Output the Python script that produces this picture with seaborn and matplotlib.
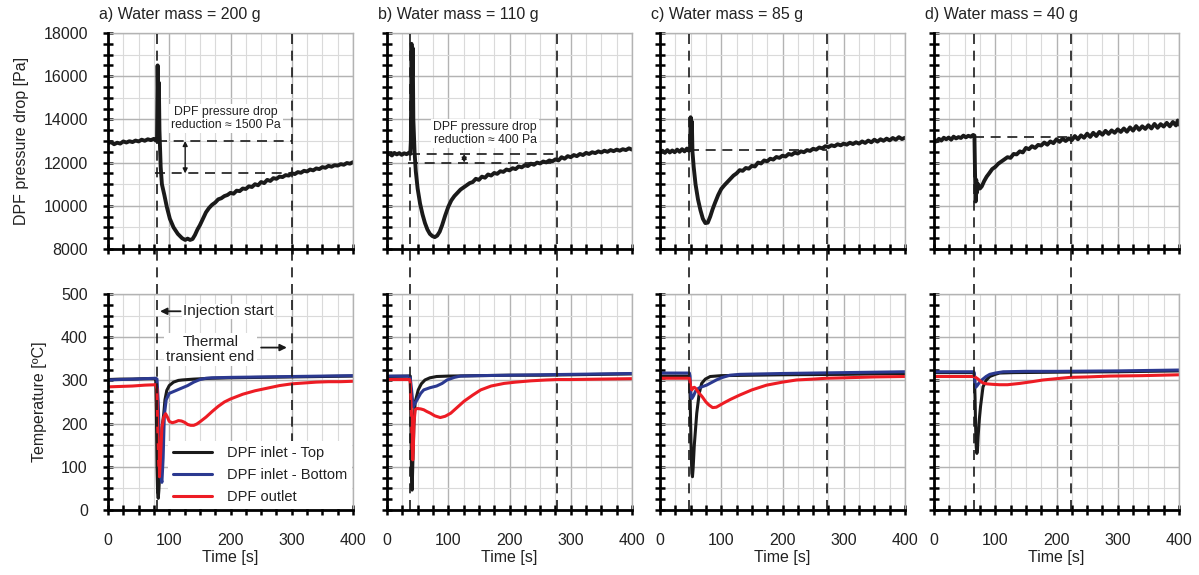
import matplotlib
matplotlib.use('Agg')
import matplotlib.pyplot as plt
import seaborn as sns
from matplotlib.ticker import MultipleLocator, FuncFormatter

sns.set_theme(style='white')
plt.rcParams['font.family'] = ['Liberation Sans', 'DejaVu Sans']

# ---------------- data ----------------
panel_titles = ['a) Water mass = 200 g', 'b) Water mass = 110 g',
                'c) Water mass = 85 g', 'd) Water mass = 40 g']
inj_start = [80, 38, 48, 66]
trans_end = [300, 278, 273, 224]
series_names = ['DPF inlet - Top', 'DPF inlet - Bottom', 'DPF outlet']
series_colors = ['#1a1a1a', '#2b3990', '#ed1c24']
p_labels = [8000, 10000, 12000, 14000, 16000, 18000]
t_labels = [0, 100, 200, 300, 400, 500]

# pressure drop [Pa]
pa_t = [0, 5, 10, 15, 20, 25, 30, 35, 40, 45, 50, 55, 60, 65, 70, 75, 78, 80, 81, 82, 83, 84, 86, 88,
        92, 96, 101, 107, 114, 121, 126, 130, 134, 138, 142, 146, 150, 155, 160, 165, 170, 175, 180,
        185, 190, 195, 200, 205, 210, 215, 220, 225, 230, 235, 240, 245, 250, 255, 260, 265, 270, 275,
        280, 285, 290, 295, 300, 305, 310, 315, 320, 325, 330, 335, 340, 345, 350, 355, 360, 365, 370,
        375, 380, 385, 390, 395, 400]
pa_p = [12900, 12950, 12850, 12920, 12880, 12980, 12930, 12990, 12950, 13020, 12980, 13060, 13010,
        13080, 13040, 13100, 13020, 13000, 16500, 14600, 15700, 13500, 11800, 11000, 10500, 9950, 9400,
        9000, 8700, 8500, 8420, 8480, 8420, 8460, 8650, 8900, 9100, 9400, 9700, 9900, 10050, 10150,
        10300, 10350, 10450, 10500, 10600, 10560, 10700, 10680, 10800, 10780, 10900, 10870, 11000, 10950,
        11100, 11050, 11200, 11150, 11280, 11250, 11350, 11330, 11420, 11400, 11500, 11470, 11560, 11530,
        11620, 11590, 11680, 11640, 11730, 11700, 11790, 11760, 11850, 11810, 11880, 11860, 11930, 11900,
        11980, 11950, 12020]

pb_t = [0, 4, 8, 12, 16, 20, 24, 28, 32, 36, 38, 39, 40, 41, 42, 43, 45, 47, 50, 54, 58, 62, 66, 70,
        74, 78, 82, 86, 90, 95, 100, 105, 110, 115, 120, 125, 130, 135, 140, 145, 150, 155, 160, 165,
        170, 175, 180, 185, 190, 195, 200, 205, 210, 215, 220, 225, 230, 235, 240, 245, 250, 255, 260,
        265, 270, 275, 280, 285, 290, 295, 300, 305, 310, 315, 320, 325, 330, 335, 340, 345, 350, 355,
        360, 365, 370, 375, 380, 385, 390, 395, 400]
pb_p = [12350, 12420, 12330, 12450, 12380, 12440, 12360, 12430, 12390, 12460, 12400, 13000, 17500,
        16000, 17300, 14000, 12500, 11600, 10800, 10100, 9600, 9200, 8900, 8700, 8600, 8550, 8620, 8800,
        9100, 9550, 9950, 10250, 10450, 10600, 10750, 10850, 10950, 11050, 11100, 11250, 11200, 11350,
        11300, 11450, 11400, 11520, 11480, 11600, 11570, 11680, 11640, 11740, 11700, 11820, 11780, 11880,
        11840, 11950, 11900, 12000, 11960, 12050, 12010, 12100, 12060, 12150, 12100, 12250, 12180, 12300,
        12250, 12350, 12300, 12400, 12350, 12450, 12400, 12480, 12440, 12520, 12470, 12550, 12500, 12580,
        12530, 12600, 12550, 12620, 12580, 12660, 12600]

pc_t = [0, 4, 8, 12, 16, 20, 24, 28, 32, 36, 40, 44, 47, 49, 50, 51, 52, 53, 55, 58, 62, 66, 70, 74,
        78, 82, 86, 90, 95, 100, 105, 110, 115, 120, 125, 130, 135, 140, 145, 150, 155, 160, 165, 170,
        175, 180, 185, 190, 195, 200, 205, 210, 215, 220, 225, 230, 235, 240, 245, 250, 255, 260, 265,
        270, 275, 280, 285, 290, 295, 300, 305, 310, 315, 320, 325, 330, 335, 340, 345, 350, 355, 360,
        365, 370, 375, 380, 385, 390, 395, 400]
pc_p = [12480, 12550, 12450, 12580, 12470, 12560, 12480, 12600, 12500, 12620, 12520, 12650, 12550,
        12600, 14100, 13500, 13900, 12500, 11800, 11000, 10300, 9800, 9400, 9200, 9220, 9500, 9850,
        10150, 10500, 10780, 10950, 11100, 11250, 11400, 11500, 11650, 11620, 11750, 11720, 11850, 11820,
        12000, 11960, 12100, 12060, 12180, 12140, 12260, 12220, 12320, 12280, 12400, 12360, 12460, 12420,
        12520, 12480, 12580, 12540, 12640, 12600, 12700, 12660, 12760, 12720, 12800, 12760, 12850, 12800,
        12880, 12830, 12920, 12860, 12940, 12880, 12980, 12910, 13020, 12940, 13060, 12970, 13080, 13010,
        13110, 13030, 13140, 13060, 13180, 13090, 13150]

pd_t = [0, 4, 8, 12, 16, 20, 24, 28, 32, 36, 40, 44, 48, 52, 56, 60, 64, 66, 67, 68, 69, 70, 72, 75,
        78, 82, 86, 90, 95, 100, 105, 110, 115, 120, 125, 130, 135, 140, 145, 150, 155, 160, 165, 170,
        175, 180, 185, 190, 195, 200, 205, 210, 215, 220, 225, 230, 235, 240, 245, 250, 255, 260, 265,
        270, 275, 280, 285, 290, 295, 300, 305, 310, 315, 320, 325, 330, 335, 340, 345, 350, 355, 360,
        365, 370, 375, 380, 385, 390, 395, 398, 400]
pd_p = [13050, 12980, 13100, 13020, 13150, 13080, 13160, 13060, 13200, 13120, 13180, 13140, 13250,
        13170, 13240, 13200, 13280, 13250, 11500, 10200, 11200, 10600, 11000, 10800, 10900, 11150, 11350,
        11500, 11700, 11800, 11950, 12050, 12150, 12250, 12220, 12400, 12380, 12520, 12470, 12680, 12620,
        12760, 12680, 12820, 12790, 12930, 12830, 12980, 12900, 13080, 12960, 13100, 13000, 13120, 13040,
        13230, 13080, 13260, 13150, 13340, 13190, 13380, 13230, 13420, 13290, 13470, 13330, 13490, 13380,
        13540, 13420, 13580, 13430, 13630, 13480, 13690, 13520, 13680, 13560, 13730, 13580, 13790, 13610,
        13780, 13670, 13840, 13680, 13880, 13720, 13950, 13760]

# temperature [degC]
ta_top_t = [0, 20, 40, 60, 76, 78, 79, 80, 81, 82, 83, 85, 87, 89, 91, 93, 96, 100, 107, 115, 121,
            140, 170, 200, 250, 300, 350, 400]
ta_top_v = [302, 303, 303, 304, 304, 300, 230, 100, 40, 27, 45, 100, 160, 200, 222, 255, 277, 288,
            296, 300, 301, 303, 305, 306, 307, 308, 309, 310]
ta_bot_t = [0, 20, 40, 60, 78, 80, 82, 84, 86, 88, 90, 92, 95, 100, 110, 120, 130, 140, 150, 160,
            170, 200, 250, 300, 350, 400]
ta_bot_v = [301, 302, 303, 304, 305, 303, 250, 150, 80, 64, 120, 220, 255, 270, 276, 282, 288, 296,
            302, 305, 306, 307, 308, 309, 310, 311]
ta_out_t = [0, 20, 40, 60, 78, 80, 81, 83, 84, 86, 88, 91, 94, 97, 100, 105, 110, 115, 120, 125, 130,
            135, 140, 145, 150, 160, 170, 180, 190, 200, 220, 240, 260, 280, 300, 320, 340, 360, 380, 400]
ta_out_v = [285, 286, 287, 289, 290, 280, 200, 100, 77, 130, 190, 215, 223, 215, 205, 202, 204, 207,
            206, 203, 198, 196, 196, 199, 204, 215, 228, 240, 250, 257, 268, 276, 282, 288, 292, 294,
            296, 297, 297, 298]

tb_top_t = [0, 36, 38, 39, 40, 41, 42, 44, 46, 51, 56, 62, 70, 81, 100, 150, 200, 250, 300, 350, 400]
tb_top_v = [309, 310, 310, 200, 80, 46, 100, 200, 250, 278, 292, 301, 306, 309, 310, 311, 312, 312,
            313, 314, 315]
tb_bot_t = [0, 37, 38, 40, 42, 43, 45, 49, 55, 60, 70, 81, 90, 98, 110, 120, 150, 200, 250, 300, 350,
            400]
tb_bot_v = [310, 310, 305, 280, 250, 239, 245, 255, 270, 278, 283, 287, 293, 301, 307, 310, 311, 312,
            313, 314, 315, 316]
tb_out_t = [0, 37, 38, 40, 41, 42, 43, 44, 46, 49, 55, 60, 65, 71, 78, 87, 95, 104, 115, 126, 140,
            153, 170, 191, 210, 235, 260, 278, 300, 350, 400]
tb_out_v = [302, 302, 295, 220, 150, 116, 140, 200, 232, 235, 234, 232, 228, 224, 218, 214, 217, 224,
            238, 252, 266, 278, 287, 293, 296, 299, 301, 302, 302, 303, 304]

tc_top_t = [0, 47, 48, 49, 50, 51, 52, 53, 54, 56, 60, 64, 68, 74, 82, 100, 150, 200, 300, 400]
tc_top_v = [310, 310, 305, 270, 200, 130, 85, 77, 95, 150, 224, 270, 293, 303, 309, 311, 312, 313,
            314, 316]
tc_bot_t = [0, 48, 49, 50, 51, 52, 55, 58, 63, 70, 76, 84, 92, 100, 114, 130, 200, 300, 400]
tc_bot_v = [317, 317, 310, 280, 262, 258, 265, 275, 282, 286, 289, 295, 301, 306, 312, 314, 316, 318,
            320]
tc_out_t = [0, 48, 49, 50, 52, 54, 56, 58, 60, 63, 69, 75, 80, 86, 92, 103, 115, 130, 150, 174, 200,
            223, 250, 272, 300, 350, 400]
tc_out_v = [305, 305, 300, 285, 278, 283, 284, 282, 278, 272, 262, 250, 243, 237, 238, 247, 256, 266,
            278, 289, 296, 301, 303, 305, 306, 308, 309]

td_top_t = [0, 65, 66, 67, 68, 69, 70, 71, 72, 74, 76, 80, 85, 91, 100, 107, 130, 200, 300, 400]
td_top_v = [318, 318, 310, 260, 190, 145, 131, 140, 170, 210, 240, 285, 300, 309, 314, 317, 318, 319,
            320, 322]
td_bot_t = [0, 65, 66, 67, 68, 70, 74, 78, 85, 91, 100, 113, 150, 200, 300, 400]
td_bot_v = [320, 320, 315, 295, 284, 287, 295, 301, 309, 314, 317, 320, 321, 321, 322, 324]
td_out_t = [0, 65, 68, 72, 76, 80, 86, 95, 107, 120, 140, 160, 178, 200, 222, 250, 287, 340, 400]
td_out_v = [309, 309, 307, 303, 298, 294, 292, 291, 290, 290, 293, 297, 301, 304, 307, 308, 310, 311,
            313]

pressure = [(pa_t, pa_p), (pb_t, pb_p), (pc_t, pc_p), (pd_t, pd_p)]
temps = [
    [(ta_top_t, ta_top_v), (ta_bot_t, ta_bot_v), (ta_out_t, ta_out_v)],
    [(tb_top_t, tb_top_v), (tb_bot_t, tb_bot_v), (tb_out_t, tb_out_v)],
    [(tc_top_t, tc_top_v), (tc_bot_t, tc_bot_v), (tc_out_t, tc_out_v)],
    [(td_top_t, td_top_v), (td_bot_t, td_bot_v), (td_out_t, td_out_v)],
]

# pressure-drop reference levels [Pa]
ref_hi = [13000, 12400, 12580, 13200]
ref_lo = [11500, 12000, None, None]
arrow_t = [126, 126, None, None]
reduction_text = ['DPF pressure drop\nreduction \u2248 1500 Pa',
                  'DPF pressure drop\nreduction \u2248 400 Pa', None, None]
reduction_pos = [(192, 14050), (160, 13350), None, None]

# ---------------- figure ----------------
fig = plt.figure(figsize=(11.99, 5.75), dpi=100)
lefts = [108, 387, 660, 934]
W, H = 1199.0, 575.0
aw = 245 / W
ah = 216 / H
top_bottom = 1 - 249 / H
bot_bottom = 1 - 510 / H

major_grid = '#b3b3b3'
minor_grid = '#dadada'


def style_axes(ax, ylabels_vals, ygrid, ytick, show_ylabels, show_xlabels):
    ax.set_xlim(0, 400)
    ax.xaxis.set_major_locator(MultipleLocator(100))
    ax.xaxis.set_minor_locator(MultipleLocator(25))
    # y: major locator = grid spacing, minor = tick spacing only
    ax.yaxis.set_major_locator(MultipleLocator(ygrid))
    ax.yaxis.set_minor_locator(MultipleLocator(ytick))
    ax.yaxis.set_major_formatter(FuncFormatter(
        lambda v, pos: ('%d' % round(v)) if round(v) in ylabels_vals else ''))
    ax.xaxis.grid(True, which='major', color=major_grid, lw=1.0)
    ax.xaxis.grid(True, which='minor', color=minor_grid, lw=0.8)
    ax.yaxis.grid(True, which='major', color=minor_grid, lw=0.8)
    for v in ylabels_vals:
        ax.axhline(v, color=major_grid, lw=1.0, zorder=0.6)
    ax.set_axisbelow(True)
    for s in ['left', 'bottom']:
        ax.spines[s].set_color('black')
        ax.spines[s].set_linewidth(2.0)
        ax.spines[s].set_zorder(5)
    for s in ['top', 'right']:
        ax.spines[s].set_color(major_grid)
        ax.spines[s].set_linewidth(1.0)
    ax.tick_params(which='both', direction='inout', length=7, width=1.8, color='black',
                   top=False, right=False, left=True, bottom=True)
    ax.tick_params(which='major', labelsize=11.5, labelcolor='#222222')
    ax.tick_params(axis='y', which='major', pad=11)
    ax.tick_params(axis='x', which='major', pad=13)
    ax.tick_params(labelleft=show_ylabels, labelbottom=show_xlabels)


for i in range(4):
    x0 = lefts[i] / W
    axp = fig.add_axes([x0, top_bottom, aw, ah])
    axt = fig.add_axes([x0, bot_bottom, aw, ah])

    # pressure drop
    t, p = pressure[i]
    sns.lineplot(x=t, y=p, ax=axp, color='#1a1a1a', linewidth=2.8, legend=False)
    axp.set_ylim(8000, 18000)
    style_axes(axp, p_labels, 1000, 500, i == 0, False)
    axp.set_xlabel('')
    axp.set_ylabel('')

    # temperatures
    for (tt, vv), name, col in zip(temps[i], series_names, series_colors):
        sns.lineplot(x=tt, y=vv, ax=axt, color=col, linewidth=2.2,
                     label=name if i == 0 else None, legend=False)
    axt.set_ylim(0, 500)
    style_axes(axt, t_labels, 50, 25, i == 0, True)
    axt.set_xlabel('Time [s]', fontsize=11.5, color='#222222')
    axt.xaxis.set_label_coords(0.5, -0.22)
    axt.xaxis.label.set_va('center')
    axt.set_ylabel('')

    # vertical dashed lines (injection start / thermal transient end)
    for xv in (inj_start[i], trans_end[i]):
        axp.axvline(xv, ymin=-0.21, ymax=1, color='#1a1a1a', lw=1.2, ls=(0, (6, 4)),
                    clip_on=False, zorder=3)
        axt.axvline(xv, ymin=0, ymax=1, color='#1a1a1a', lw=1.2, ls=(0, (6, 4)), zorder=3)

    # pressure reference dashed lines
    axp.hlines(ref_hi[i], inj_start[i], trans_end[i], color='#1a1a1a', lw=1.2,
               linestyles=(0, (6, 4)), zorder=3)
    if ref_lo[i] is not None:
        axp.hlines(ref_lo[i], inj_start[i] - 4, trans_end[i], color='#1a1a1a', lw=1.2,
                   linestyles=(0, (6, 4)), zorder=3)
        axp.annotate('', xy=(arrow_t[i], ref_lo[i]), xytext=(arrow_t[i], ref_hi[i]),
                     arrowprops=dict(arrowstyle='<|-|>', color='#1a1a1a', lw=1.0,
                                     mutation_scale=7, shrinkA=0, shrinkB=0), zorder=4)
        axp.text(reduction_pos[i][0], reduction_pos[i][1], reduction_text[i], ha='center',
                 va='center', fontsize=8.8, color='#222222', linespacing=1.1, zorder=4,
                 bbox=dict(facecolor='white', edgecolor='none', pad=1.5))

    axp.text(-0.035, 1.085, panel_titles[i], transform=axp.transAxes, ha='left', va='center',
             fontsize=11.5, color='#222222')

    if i == 0:
        axp.set_ylabel('DPF pressure drop [Pa]', fontsize=11.5, color='#222222')
        axp.yaxis.set_label_coords(-0.352, 0.5)
        axp.yaxis.label.set_va('center')
        axt.set_ylabel('Temperature [\u00baC]', fontsize=11.5, color='#222222')
        axt.yaxis.set_label_coords(-0.278, 0.5)
        axt.yaxis.label.set_va('center')

        leg = axt.legend(loc='lower right', bbox_to_anchor=(1.0, 0.0), fontsize=10.5,
                         frameon=True, fancybox=False, facecolor='white', edgecolor='none',
                         framealpha=1.0, handlelength=2.7, handletextpad=1.0, labelspacing=0.55,
                         borderpad=0.35, borderaxespad=0.05)
        leg.set_zorder(10)
        for txt in leg.get_texts():
            txt.set_color('#222222')

        axt.annotate('Injection start', xy=(inj_start[i] + 5, 460), xytext=(inj_start[i] + 42, 460),
                     ha='left', va='center', fontsize=11, color='#222222',
                     bbox=dict(facecolor='white', edgecolor='none', pad=0.5),
                     arrowprops=dict(arrowstyle='-|>', color='#1a1a1a', lw=1.3, mutation_scale=10,
                                     shrinkA=1, shrinkB=0), zorder=6)
        axt.text(167, 372, 'Thermal\ntransient end', ha='center', va='center', fontsize=11,
                 color='#222222', linespacing=1.1,
                 bbox=dict(facecolor='white', edgecolor='none', pad=1.5), zorder=6)
        axt.annotate('', xy=(trans_end[i] - 8, 376), xytext=(trans_end[i] - 50, 376),
                     arrowprops=dict(arrowstyle='-|>', color='#1a1a1a', lw=1.3, mutation_scale=10,
                                     shrinkA=0, shrinkB=0), zorder=6)

fig.savefig('out.png', dpi=100, facecolor='white')
